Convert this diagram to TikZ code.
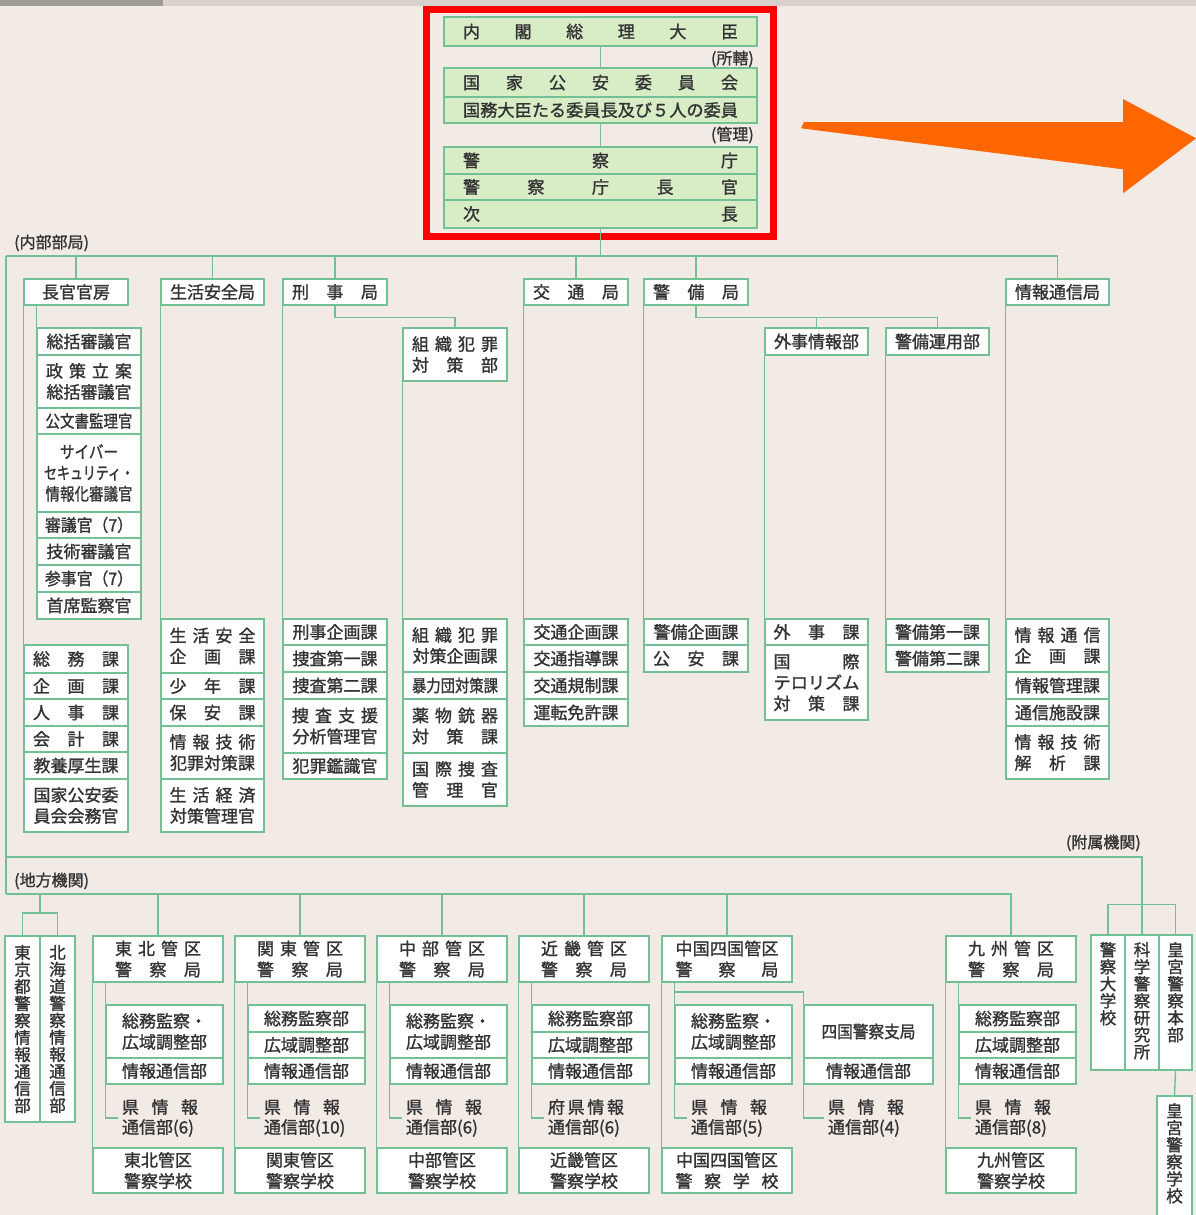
\documentclass[tikz,border=0pt]{standalone}
\usepackage{fontspec}
\setmainfont{Noto Sans CJK JP}[FakeBold=1.3]
\usepackage{graphicx}
\usetikzlibrary{calc}
\definecolor{bg}{HTML}{F2EBE5}
\definecolor{gl}{HTML}{74C095}
\definecolor{gf}{HTML}{D8ECC6}
\definecolor{tc}{HTML}{333333}
\definecolor{org}{HTML}{FF6600}
\definecolor{barA}{HTML}{A19B95}
\definecolor{barB}{HTML}{D9D1CB}
\definecolor{redb}{HTML}{FF0000}
\newcommand\bx[7][]{\node[box,#1,minimum width={(#5)-(#3)},minimum height={(#6)-(#4)}] (#2) at ({((#3)+(#5))/2},{((#4)+(#6))/2}) {#7};}
\newcommand\sprd[2]{\hbox to #1pt{#2}}
\newcommand\fitw[2]{\resizebox{#1pt}{\height}{#2}}
\newcommand\kenA[2]{\sprd{76}{#1}\\\hbox to 76pt{#2\hss}}
\newcommand\regA[5]{%
 \bx{#1h}{#2}{936}{#2+130}{982}{#3}
 \bx{#1a}{#2+13}{1005}{#2+130}{1058}{総務監察・\\広域調整部}
 \bx{#1b}{#2+13}{1058}{#2+130}{1084}{情報通信部}
 \node[lab2] (#1k) at ({#2+67},1118) {#4};
 \bx{#1s}{#2}{1148}{#2+130}{1193}{#5}
 \draw[ln] (#1h.south west) -- (#1s.north west);
 \draw[ln] (#1a.north west |- #1h.south) -- (#1a.north west);
 \draw[ln] (#1b.south west) |- ([xshift=-4pt]#1k.west);
}
\newcommand\regB[5]{%
 \bx{#1h}{#2}{936}{#2+130}{982}{#3}
 \bx{#1a}{#2+13}{1005}{#2+130}{1032}{総務監察部}
 \bx{#1m}{#2+13}{1032}{#2+130}{1058}{広域調整部}
 \bx{#1b}{#2+13}{1058}{#2+130}{1084}{情報通信部}
 \node[lab2] (#1k) at ({#2+67},1118) {#4};
 \bx{#1s}{#2}{1148}{#2+130}{1193}{#5}
 \draw[ln] (#1h.south west) -- (#1s.north west);
 \draw[ln] (#1a.north west |- #1h.south) -- (#1a.north west);
 \draw[ln] (#1b.south west) |- ([xshift=-4pt]#1k.west);
}
\begin{document}
\begin{tikzpicture}[x=1pt,y=-1pt,
  ln/.style={draw=gl,line width=1.4pt},
  box/.style={draw=gl,line width=1.3pt,fill=white,inner sep=0pt,align=center,text=tc,font=\fontsize{17}{21}\selectfont},
  lab/.style={inner sep=0pt,text=tc,font=\fontsize{16}{18}\selectfont},
  lab2/.style={inner sep=0pt,align=left,text=tc,font=\fontsize{17}{20}\selectfont},
  vfont/.style={font=\fontsize{16.5}{17}\selectfont},
  vt/.style={inner sep=0pt,align=center,text=tc,font=\fontsize{16.5}{17}\selectfont,anchor=north}]
\useasboundingbox (0,0) rectangle (1196,1215);
\fill[bg] (0,0) rectangle (1196,1215);
\fill[barB] (0,0) rectangle (1196,6);
\fill[barA] (0,0) rectangle (163,6);
% orange arrow
\fill[org] (801,128.3) -- (804,122) -- (1123,122) -- (1123,99) -- (1196,138.3) -- (1123,193.3) -- (1123,169.3) -- cycle;
% top
\bx[fill=gf]{pm}{444}{17}{757}{46}{\sprd{275}{内\hfil 閣\hfil 総\hfil 理\hfil 大\hfil 臣}}
\node[lab,anchor=east] (shokatsu) at (754,59) {(所轄)};
\bx[fill=gf]{npsc}{444}{68}{757}{97}{\sprd{275}{国\hfil 家\hfil 公\hfil 安\hfil 委\hfil 員\hfil 会}}
\bx[fill=gf]{npsc2}{444}{97}{757}{123}{\fitw{275}{国務大臣たる委員長及び５人の委員}}
\node[lab,anchor=east] (kanri) at (754,135) {(管理)};
\bx[fill=gf]{npa}{444}{147}{757}{174}{\sprd{275}{警\hfil 察\hfil 庁}}
\bx[fill=gf]{npachief}{444}{174}{757}{200}{\sprd{275}{警\hfil 察\hfil 庁\hfil 長\hfil 官}}
\bx[fill=gf]{jicho}{444}{200}{757}{228}{\sprd{275}{次\hfil 長}}
\draw[redb,line width=7pt] (426.5,9.5) rectangle (773.5,236);
\draw[ln] (pm.south) -- (npsc.north);
\draw[ln] (npsc2.south) -- (npa.north);
% labels
\node[lab,anchor=west] (naibu) at (14,243) {(内部部局)};
\node[lab,anchor=west] (chiho) at (14,881) {(地方機関)};
\node[lab,anchor=east] (fuzoku) at (1141,843) {(附属機関)};
% bureau headers
\bx{kanbo}{24}{279}{128}{305}{長官官房}
\bx{seian}{161}{279}{264}{305}{生活安全局}
\bx{keiji}{283}{279}{387}{305}{\sprd{86}{刑\hfil 事\hfil 局}}
\bx{kotsu}{524}{279}{628}{305}{\sprd{86}{交\hfil 通\hfil 局}}
\bx{keibi}{644}{279}{748}{305}{\sprd{86}{警\hfil 備\hfil 局}}
\bx{joho}{1006}{279}{1109}{305}{情報通信局}
\bx{soshiki}{403}{328}{507}{381}{\sprd{86}{組\hfil 織\hfil 犯\hfil 罪}\\\sprd{86}{対\hfil 策\hfil 部}}
\bx{gaiji}{765}{328}{868}{355}{外事情報部}
\bx{unyo}{886}{328}{989}{355}{警備運用部}
% kanbo staff
\bx{st1}{37}{328}{141}{355}{総括審議官}
\bx{st2}{37}{355}{141}{408}{\sprd{86}{政\hfil 策\hfil 立\hfil 案}\\総括審議官}
\bx{st3}{37}{408}{141}{434}{\fitw{87}{公文書監理官}}
\bx{st4}{37}{434}{141}{512}{\fitw{58}{サイバー}\\\fitw{90}{セキュリティ・}\\\fitw{87}{情報化審議官}}
\bx{st5}{37}{512}{141}{538}{\fitw{88}{審議官（7）}}
\bx{st6}{37}{538}{141}{565}{技術審議官}
\bx{st7}{37}{565}{141}{592}{\fitw{88}{参事官（7）}}
\bx{st8}{37}{592}{141}{619}{首席監察官}
% kanbo divisions
\bx{ka1}{24}{645}{128}{673}{\sprd{86}{総\hfil 務\hfil 課}}
\bx{ka2}{24}{673}{128}{699}{\sprd{86}{企\hfil 画\hfil 課}}
\bx{ka3}{24}{699}{128}{726}{\sprd{86}{人\hfil 事\hfil 課}}
\bx{ka4}{24}{726}{128}{752}{\sprd{86}{会\hfil 計\hfil 課}}
\bx{ka5}{24}{752}{128}{779}{教養厚生課}
\bx{ka6}{24}{779}{128}{832}{国家公安委\\員会会務官}
% seian
\bx{sa1}{161}{619}{264}{673}{\sprd{86}{生\hfil 活\hfil 安\hfil 全}\\\sprd{86}{企\hfil 画\hfil 課}}
\bx{sa2}{161}{673}{264}{699}{\sprd{86}{少\hfil 年\hfil 課}}
\bx{sa3}{161}{699}{264}{726}{\sprd{86}{保\hfil 安\hfil 課}}
\bx{sa4}{161}{726}{264}{779}{\sprd{86}{情\hfil 報\hfil 技\hfil 術}\\犯罪対策課}
\bx{sa5}{161}{779}{264}{832}{\sprd{86}{生\hfil 活\hfil 経\hfil 済}\\対策管理官}
% keiji
\bx{kj1}{283}{619}{387}{645}{刑事企画課}
\bx{kj2}{283}{645}{387}{672}{捜査第一課}
\bx{kj3}{283}{672}{387}{699}{捜査第二課}
\bx{kj4}{283}{699}{387}{753}{\sprd{86}{捜\hfil 査\hfil 支\hfil 援}\\分析管理官}
\bx{kj5}{283}{753}{387}{779}{犯罪鑑識官}
% soshiki
\bx{so1}{403}{619}{507}{672}{\sprd{86}{組\hfil 織\hfil 犯\hfil 罪}\\対策企画課}
\bx{so2}{403}{672}{507}{699}{\fitw{86}{暴力団対策課}}
\bx{so3}{403}{699}{507}{753}{\sprd{86}{薬\hfil 物\hfil 銃\hfil 器}\\\sprd{86}{対\hfil 策\hfil 課}}
\bx{so4}{403}{753}{507}{806}{\sprd{86}{国\hfil 際\hfil 捜\hfil 査}\\\sprd{86}{管\hfil 理\hfil 官}}
% kotsu
\bx{kt1}{524}{619}{628}{645}{交通企画課}
\bx{kt2}{524}{645}{628}{672}{交通指導課}
\bx{kt3}{524}{672}{628}{699}{交通規制課}
\bx{kt4}{524}{699}{628}{726}{運転免許課}
% keibi
\bx{kb1}{644}{619}{748}{645}{警備企画課}
\bx{kb2}{644}{645}{748}{672}{\sprd{86}{公\hfil 安\hfil 課}}
\bx{gj1}{765}{619}{868}{645}{\sprd{86}{外\hfil 事\hfil 課}}
\bx{gj2}{765}{645}{868}{720}{\sprd{86}{国\hfil 際}\\\fitw{86}{テロリズム}\\\sprd{86}{対\hfil 策\hfil 課}}
\bx{un1}{886}{619}{989}{645}{警備第一課}
\bx{un2}{886}{645}{989}{672}{警備第二課}
% joho
\bx{jh1}{1006}{619}{1109}{672}{\sprd{86}{情\hfil 報\hfil 通\hfil 信}\\\sprd{86}{企\hfil 画\hfil 課}}
\bx{jh2}{1006}{672}{1109}{699}{情報管理課}
\bx{jh3}{1006}{699}{1109}{726}{通信施設課}
\bx{jh4}{1006}{726}{1109}{779}{\sprd{86}{情\hfil 報\hfil 技\hfil 術}\\\sprd{86}{解\hfil 析\hfil 課}}
% top connectors
\draw[ln] (jicho.south) -- ++(0,28) coordinate (hub);
\coordinate (busL) at (6,256);
\draw[ln] (busL) -- (busL -| joho.north) -- (joho.north);
\draw[ln] (kanbo.north |- hub) -- (kanbo.north);
\draw[ln] (seian.north |- hub) -- (seian.north);
\draw[ln] (keiji.north |- hub) -- (keiji.north);
\draw[ln] (kotsu.north |- hub) -- (kotsu.north);
\draw[ln] (keibi.north |- hub) -- (keibi.north);
\draw[ln] (kanbo.south west) -- (ka1.north west);
\draw[ln] (st1.north west |- kanbo.south) -- (st1.north west);
\draw[ln] (seian.south west) -- (sa1.north west);
\draw[ln] (keiji.south west) -- (kj1.north west);
\draw[ln] (keiji.south) -- ++(0,12) -| (soshiki.north);
\draw[ln] (soshiki.south west) -- (so1.north west);
\draw[ln] (kotsu.south west) -- (kt1.north west);
\draw[ln] (keibi.south west) -- (kb1.north west);
\draw[ln] (keibi.south) -- ++(0,12) coordinate (kbj) -| (unyo.north);
\draw[ln] (kbj -| gaiji.north) -- (gaiji.north);
\draw[ln] (gaiji.south west) -- (gj1.north west);
\draw[ln] (unyo.south west) -- (un1.north west);
\draw[ln] (joho.south west) -- (jh1.north west);
% regional
\bx[vfont]{tokyo}{5}{936}{40}{1122}{東\\京\\都\\警\\察\\情\\報\\通\\信\\部}
\bx[vfont]{hokkaido}{40}{936}{75}{1122}{北\\海\\道\\警\\察\\情\\報\\通\\信\\部}
\regA{th}{93}{\sprd{86}{東\hfil 北\hfil 管\hfil 区}\\\sprd{86}{警\hfil 察\hfil 局}}{\kenA{県\hfil 情\hfil 報}{通信部(6)}}{東北管区\\警察学校}
\regB{kt}{235}{\sprd{86}{関\hfil 東\hfil 管\hfil 区}\\\sprd{86}{警\hfil 察\hfil 局}}{\kenA{県\hfil 情\hfil 報}{通信部(10)}}{関東管区\\警察学校}
\regA{cb}{377}{\sprd{86}{中\hfil 部\hfil 管\hfil 区}\\\sprd{86}{警\hfil 察\hfil 局}}{\kenA{県\hfil 情\hfil 報}{通信部(6)}}{中部管区\\警察学校}
\regB{kk}{519}{\sprd{86}{近\hfil 畿\hfil 管\hfil 区}\\\sprd{86}{警\hfil 察\hfil 局}}{\kenA{府\hfil 県\hfil 情\hfil 報}{通信部(6)}}{近畿管区\\警察学校}
\regA{cs}{662}{\sprd{103}{中\hfil 国\hfil 四\hfil 国\hfil 管\hfil 区}\\\sprd{103}{警\hfil 察\hfil 局}}{\kenA{県\hfil 情\hfil 報}{通信部(5)}}{中国四国管区\\\sprd{103}{警\hfil 察\hfil 学\hfil 校}}
\regB{ky}{946}{\sprd{86}{九\hfil 州\hfil 管\hfil 区}\\\sprd{86}{警\hfil 察\hfil 局}}{\kenA{県\hfil 情\hfil 報}{通信部(8)}}{九州管区\\警察学校}
% shikoku
\bx{shikoku}{804}{1005}{933}{1058}{\fitw{94}{四国警察支局}}
\bx{shikokub}{804}{1058}{933}{1084}{情報通信部}
\node[lab2] (shikokuk) at (866,1118) {\kenA{県\hfil 情\hfil 報}{通信部(4)}};
\coordinate (c4) at (675,992);
\draw[ln] (c4) -| (shikoku.north west);
\draw[ln] (shikokub.south west) |- ([xshift=-4pt]shikokuk.west);
% attached
\bx{daigaku}{1091}{935}{1125}{1070}{}
\bx{kaken}{1125}{935}{1159}{1070}{}
\bx{kogu}{1159}{935}{1192}{1070}{}
\bx{kogusch}{1157}{1096}{1192}{1222}{}
\node[vt] (daigakuT) at (1108,942) {警\\察\\大\\学\\校};
\node[vt] (kakenT) at (1142,942) {科\\学\\警\\察\\研\\究\\所};
\node[vt] (koguT) at (1175.5,942) {皇\\宮\\警\\察\\本\\部};
\node[vt] (koguschT) at (1174.5,1103) {皇\\宮\\警\\察\\学\\校};
% lower connectors
\coordinate (t1) at (6,857);
\coordinate (t2) at (6,894);
\draw[ln] (busL) -- (t2);
\draw[ln] (t1) -- (t1 -| kaken.north) -- (kaken.north);
\draw[ln] (daigaku.north) -- ++(0,-30) -| (kogu.north);
\draw[ln] (kogu.south) -- (kogusch.north);
\draw[ln] (t2) -- (t2 -| kyh.north) -- (kyh.north);
\draw[ln] (thh.north |- t2) -- (thh.north);
\draw[ln] (kth.north |- t2) -- (kth.north);
\draw[ln] (cbh.north |- t2) -- (cbh.north);
\draw[ln] (kkh.north |- t2) -- (kkh.north);
\draw[ln] (csh.north |- t2) -- (csh.north);
\coordinate (pj) at (40,913);
\draw[ln] (pj |- t2) -- (pj);
\draw[ln] (tokyo.north) |- (pj) -| (hokkaido.north);
\end{tikzpicture}
\end{document}
